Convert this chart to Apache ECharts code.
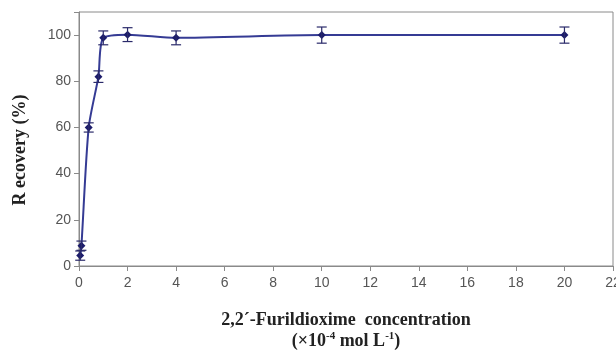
<!DOCTYPE html>
<html>
<head>
<meta charset="utf-8">
<script src="https://cdn.jsdelivr.net/npm/echarts@6/dist/echarts.min.js"></script>
<style>
  html, body { margin: 0; padding: 0; background: #fff; }
  #main { width: 616px; height: 351px; }
</style>
</head>
<body>
<div id="main"></div>
<script>
// concentration (x10^-4 mol/L) and recovery (%)
var conc = [0.05, 0.1, 0.4, 0.8, 1.0, 2, 4, 10, 20];
var recovery = [4.5, 8.8, 60, 82, 98.8, 100.2, 98.8, 100, 100];
var errors = [2, 2, 2, 2.5, 3, 3, 3, 3.5, 3.5];
var xTicks = [0, 2, 4, 6, 8, 10, 12, 14, 16, 18, 20, 22];
var yTicks = [0, 20, 40, 60, 80, 100];

var lineData = conc.map(function (c, i) { return [c, recovery[i]]; });
var errData = conc.map(function (c, i) { return [c, recovery[i] - errors[i], recovery[i] + errors[i]]; });

var chart = echarts.init(document.getElementById('main'));
var option = {
  animation: false,
  grid: {
    left: 79, right: 3, top: 12, bottom: 85,
    containLabel: false, outerBoundsMode: 'none',
    show: true, borderColor: '#8a8a8a', borderWidth: 1
  },
  xAxis: {
    type: 'value', min: 0, max: 22, interval: 2,
    axisLine: { show: true, lineStyle: { color: '#8a8a8a' } },
    axisTick: { show: true, inside: false, length: 5, lineStyle: { color: '#8a8a8a' } },
    axisLabel: { color: '#555', fontSize: 14, fontFamily: 'Liberation Sans', margin: 10 },
    splitLine: { show: false },
    name: '{a|2,2´-Furildioxime  concentration}\n{b|(×10}{s|-4}{b| mol L}{s|-1}{b|)}',
    nameLocation: 'middle',
    nameGap: 44,
    nameTextStyle: {
      lineHeight: 21,
      rich: {
        a: { fontFamily: 'Liberation Serif', fontWeight: 'bold', fontSize: 18, color: '#222', lineHeight: 21 },
        b: { fontFamily: 'Liberation Serif', fontWeight: 'bold', fontSize: 18, color: '#222', lineHeight: 21 },
        s: { fontFamily: 'Liberation Serif', fontWeight: 'bold', fontSize: 11, color: '#222', verticalAlign: 'top', lineHeight: 14 }
      }
    }
  },
  yAxis: {
    type: 'value', min: 0, max: 110, interval: 20,
    axisLine: { show: true, lineStyle: { color: '#8a8a8a' } },
    axisTick: { show: true, inside: false, length: 5, lineStyle: { color: '#8a8a8a' } },
    axisLabel: {
      color: '#555', fontSize: 14, fontFamily: 'Liberation Sans', margin: 8,
      formatter: function (v) { return yTicks.indexOf(v) >= 0 ? v : ''; }
    },
    splitLine: { show: false }
  },
  graphic: [{
    type: 'text',
    x: 20, y: 150,
    rotation: Math.PI / 2,
    style: {
      text: 'R ecovery (%)',
      font: 'bold 18px "Liberation Serif"',
      fill: '#222',
      align: 'center',
      verticalAlign: 'middle'
    }
  }],
  series: [{
    type: 'line',
    data: lineData,
    smooth: 0.25,
    symbol: 'diamond',
    symbolSize: 8,
    lineStyle: { color: '#353b94', width: 2 },
    itemStyle: { color: '#1c1c6b' },
    z: 3
  }, {
    type: 'custom',
    data: errData,
    z: 4,
    renderItem: function (params, api) {
      var x = api.value(0);
      var lo = api.coord([x, api.value(1)]);
      var hi = api.coord([x, api.value(2)]);
      var w = 5;
      var st = { stroke: '#2a2a6a', lineWidth: 1.2 };
      return {
        type: 'group',
        children: [
          { type: 'line', shape: { x1: lo[0], y1: lo[1], x2: hi[0], y2: hi[1] }, style: st },
          { type: 'line', shape: { x1: lo[0] - w, y1: lo[1], x2: lo[0] + w, y2: lo[1] }, style: st },
          { type: 'line', shape: { x1: hi[0] - w, y1: hi[1], x2: hi[0] + w, y2: hi[1] }, style: st }
        ]
      };
    }
  }]
};
chart.setOption(option);
</script>
</body>
</html>
